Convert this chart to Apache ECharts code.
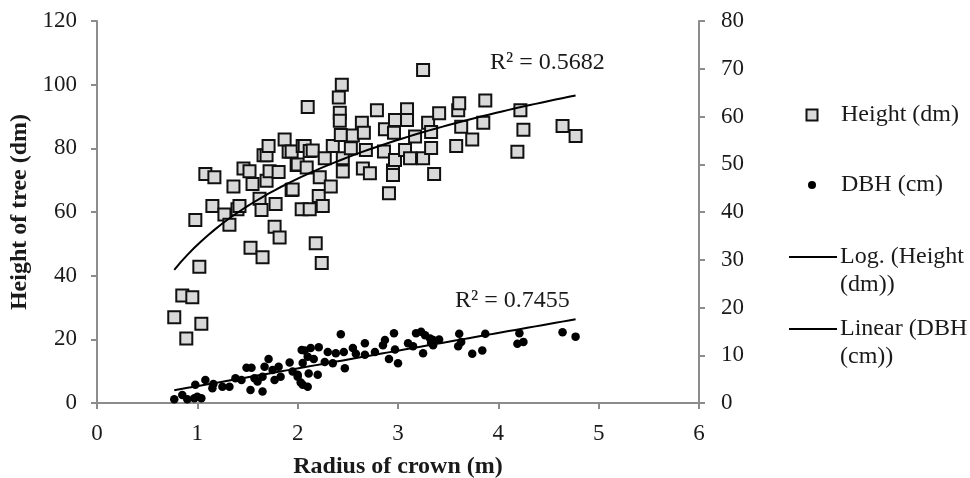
<!DOCTYPE html>
<html>
<head>
<meta charset="utf-8">
<script src="https://cdn.jsdelivr.net/npm/echarts@6/dist/echarts.min.js"></script>
<style>
html,body{margin:0;padding:0;background:#fff;}
#c{width:970px;height:478px;}
</style>
</head>
<body>
<div id="c"></div>
<script>
// Height of tree (dm) vs radius of crown (m)  [x, y]
const heightPoints = [
 [0.77,26.9],[0.85,33.8],[0.95,33.2],[0.89,20.3],[1.04,24.9],[1.02,42.8],[0.98,57.5],[1.08,71.9],[1.17,70.9],[1.15,61.9],
 [1.27,59.2],[1.32,56],[1.36,68],[1.40,60.9],[1.42,61.9],[1.46,73.7],[1.52,72.8],[1.53,48.8],[1.55,68.8],[1.62,64.2],
 [1.64,60.6],[1.65,45.8],[1.66,77.8],[1.69,77.8],[1.69,69.8],[1.71,80.7],[1.72,72.8],[1.77,55.4],[1.78,62.5],[1.81,72.6],
 [1.82,52],[1.87,82.8],[1.91,78.9],[1.94,66.9],[1.94,79],[1.95,67.1],[1.99,74.8],[2.0,74.9],[2.04,60.9],[2.05,80.7],
 [2.07,80.7],[2.09,74],[2.10,93],[2.12,79.2],[2.12,60.9],[2.15,79.3],[2.18,50.2],[2.24,44],[2.21,65],[2.22,70.9],
 [2.25,61.9],[2.27,76.9],[2.33,68],[2.35,80.7],[2.41,96],[2.42,91.2],[2.42,88.7],[2.43,84.2],[2.44,100],[2.45,76.9],
 [2.45,72.7],[2.53,80],[2.55,84],[2.64,88],[2.65,73.7],[2.66,84.9],[2.68,79.5],[2.72,72.2],[2.79,92],[2.86,79],
 [2.87,86],[2.91,65.9],[2.95,73],[2.95,71.6],[2.96,84.9],[2.97,88.9],[2.97,76.3],[3.07,79.5],[3.09,92.3],[3.09,88.9],
 [3.12,76.9],[3.17,83.7],[3.25,104.6],[3.25,76.9],[3.30,88],[3.33,85.1],[3.33,80.1],[3.36,71.9],[3.41,91],[3.58,80.7],
 [3.60,92],[3.61,94.2],[3.63,86.8],[3.74,82.8],[3.85,88],[3.87,95],[4.19,78.9],[4.22,92],[4.25,85.8],[4.64,87],[4.77,83.9]
];
// DBH (cm) vs radius of crown (m)  [x, y] (secondary axis)
const dbhPoints = [
 [0.77,0.8],[0.85,1.7],[0.90,0.8],[0.97,1.0],[1.0,1.3],[1.04,1.0],[0.98,3.8],[1.08,4.8],[1.16,4.0],[1.15,3.1],
 [1.25,3.4],[1.32,3.4],[1.38,5.2],[1.44,4.8],[1.49,7.4],[1.54,7.4],[1.53,2.7],[1.65,2.4],[1.57,5.2],[1.60,4.5],
 [1.67,7.6],[1.71,9.2],[1.65,5.5],[1.77,4.8],[1.83,5.5],[1.81,7.6],[1.75,6.9],[1.92,8.5],[1.95,6.6],[2.0,5.5],
 [2.04,11.1],[2.03,4.3],[2.43,14.4],[2.96,14.6],[3.23,14.9],[3.27,14.2],[2.07,11.0],[2.13,11.5],[2.21,11.7],[2.10,9.7],
 [2.16,9.2],[2.05,8.4],[2.0,5.9],[2.11,6.2],[2.2,5.9],[2.05,3.8],[2.1,3.4],[2.30,10.7],[2.38,10.4],[2.27,8.6],
 [2.35,8.3],[2.47,7.3],[2.46,10.7],[2.55,11.5],[2.58,10.3],[2.67,12.5],[2.67,10.1],[2.77,10.7],[2.85,12.1],[2.87,13.2],
 [2.91,9.2],[3.0,8.3],[2.97,11.2],[3.10,12.5],[3.15,11.9],[3.25,10.4],[3.33,12.6],[3.32,13.5],[3.35,13.2],[3.35,12.1],
 [3.41,13.3],[3.61,14.5],[3.63,12.8],[3.60,11.9],[3.74,10.3],[3.84,11.0],[3.87,14.5],[4.21,14.6],[4.19,12.4],[4.25,12.8],
 [4.64,14.8],[4.77,13.9],[3.18,14.6]
];
const xAxisTicks = [0,1,2,3,4,5,6];
const leftTicks = [0,20,40,60,80,100,120];
const rightTicks = [0,10,20,30,40,50,60,70,80];
const seriesNames = ['Height (dm)','DBH (cm)','Log. (Height\n(dm))','Linear (DBH\n(cm))'];
const r2Labels = ['R² = 0.5682','R² = 0.7455'];

// least-squares trend lines computed from the data
function fit(pts, useLog){
  let n=pts.length,sx=0,sy=0,sxx=0,sxy=0;
  pts.forEach(p=>{const x=useLog?Math.log(p[0]):p[0];sx+=x;sy+=p[1];sxx+=x*x;sxy+=x*p[1];});
  const a=(n*sxy-sx*sy)/(n*sxx-sx*sx); const b=(sy-a*sx)/n; return {a,b};
}
function trend(pts,useLog){
  const f=fit(pts,useLog);
  const xs=pts.map(p=>p[0]); const lo=Math.min(...xs), hi=Math.max(...xs);
  const out=[]; const N=60;
  for(let i=0;i<=N;i++){const x=lo+(hi-lo)*i/N; out.push([x,f.a*(useLog?Math.log(x):x)+f.b]);}
  return out;
}
const logTrend = trend(heightPoints,true);
const linTrend = trend(dbhPoints,false);

const FONT = 'Liberation Serif';
const TXT = '#1a1a1a';
const AX = '#8c8c8c';

const chart = echarts.init(document.getElementById('c'), null, {renderer:'canvas'});
const axisCommon = {
  axisLine:{show:true,lineStyle:{color:AX,width:2}},
  axisTick:{show:true,inside:false,length:6,lineStyle:{color:AX,width:2}},
  splitLine:{show:false}
};
chart.setOption({
  animation:false,
  backgroundColor:'#fff',
  grid:{left:97,right:271,top:21,bottom:75,containLabel:false,outerBoundsMode:'none'},
  xAxis:Object.assign({type:'value',min:xAxisTicks[0],max:xAxisTicks[xAxisTicks.length-1],interval:1,
    name:'Radius of crown (m)',nameLocation:'middle',nameGap:52,
    nameTextStyle:{fontFamily:FONT,fontSize:24,fontWeight:'bold',color:TXT},
    axisLabel:{fontFamily:FONT,fontSize:23,color:TXT,margin:19}},axisCommon),
  yAxis:[
    Object.assign({type:'value',min:leftTicks[0],max:leftTicks[leftTicks.length-1],interval:20,position:'left',
      name:'Height of tree (dm)',nameLocation:'middle',nameGap:57,nameRotate:90,
      nameTextStyle:{fontFamily:FONT,fontSize:24,fontWeight:'bold',color:TXT},
      axisLabel:{fontFamily:FONT,fontSize:23,color:TXT,margin:20}},axisCommon),
    Object.assign({type:'value',min:rightTicks[0],max:rightTicks[rightTicks.length-1],interval:10,position:'right',
      axisLabel:{fontFamily:FONT,fontSize:23,color:TXT,margin:22}},axisCommon)
  ],
  series:[
    {name:seriesNames[0],type:'scatter',yAxisIndex:0,data:heightPoints,symbol:'rect',symbolSize:12,
      itemStyle:{color:'#d9d9d9',borderColor:'#111',borderWidth:2,opacity:1},z:2},
    {name:seriesNames[1],type:'scatter',yAxisIndex:1,data:dbhPoints,symbol:'circle',symbolSize:8.5,
      itemStyle:{color:'#000',opacity:1},z:2},
    {name:seriesNames[2],type:'line',yAxisIndex:0,data:logTrend,showSymbol:false,symbol:'none',
      lineStyle:{color:'#000',width:2},z:5},
    {name:seriesNames[3],type:'line',yAxisIndex:1,data:linTrend,showSymbol:false,symbol:'none',
      lineStyle:{color:'#000',width:2},z:5}
  ],
  graphic:[
    {type:'text',left:490,top:51,style:{text:r2Labels[0],font:'24px "Liberation Serif"',fill:TXT}},
    {type:'text',left:455,top:289,style:{text:r2Labels[1],font:'24px "Liberation Serif"',fill:TXT}},
    // legend
    {type:'rect',shape:{x:806.5,y:109.5,width:11,height:11},style:{fill:'#d9d9d9',stroke:'#111',lineWidth:2}},
    {type:'text',x:841,y:115,style:{text:seriesNames[0],font:'24px "Liberation Serif"',fill:TXT,verticalAlign:'middle'}},
    {type:'circle',shape:{cx:812,cy:185,r:4},style:{fill:'#000'}},
    {type:'text',x:841,y:185,style:{text:seriesNames[1],font:'24px "Liberation Serif"',fill:TXT,verticalAlign:'middle'}},
    {type:'line',shape:{x1:789,y1:257,x2:837,y2:257},style:{stroke:'#000',lineWidth:2}},
    {type:'text',x:840,y:257,style:{text:'Log. (Height',font:'24px "Liberation Serif"',fill:TXT,verticalAlign:'middle'}},
    {type:'text',x:840,y:285,style:{text:'(dm))',font:'24px "Liberation Serif"',fill:TXT,verticalAlign:'middle'}},
    {type:'line',shape:{x1:789,y1:329,x2:837,y2:329},style:{stroke:'#000',lineWidth:2}},
    {type:'text',x:840,y:329,style:{text:'Linear (DBH',font:'24px "Liberation Serif"',fill:TXT,verticalAlign:'middle'}},
    {type:'text',x:840,y:357,style:{text:'(cm))',font:'24px "Liberation Serif"',fill:TXT,verticalAlign:'middle'}}
  ]
});
</script>
</body>
</html>
